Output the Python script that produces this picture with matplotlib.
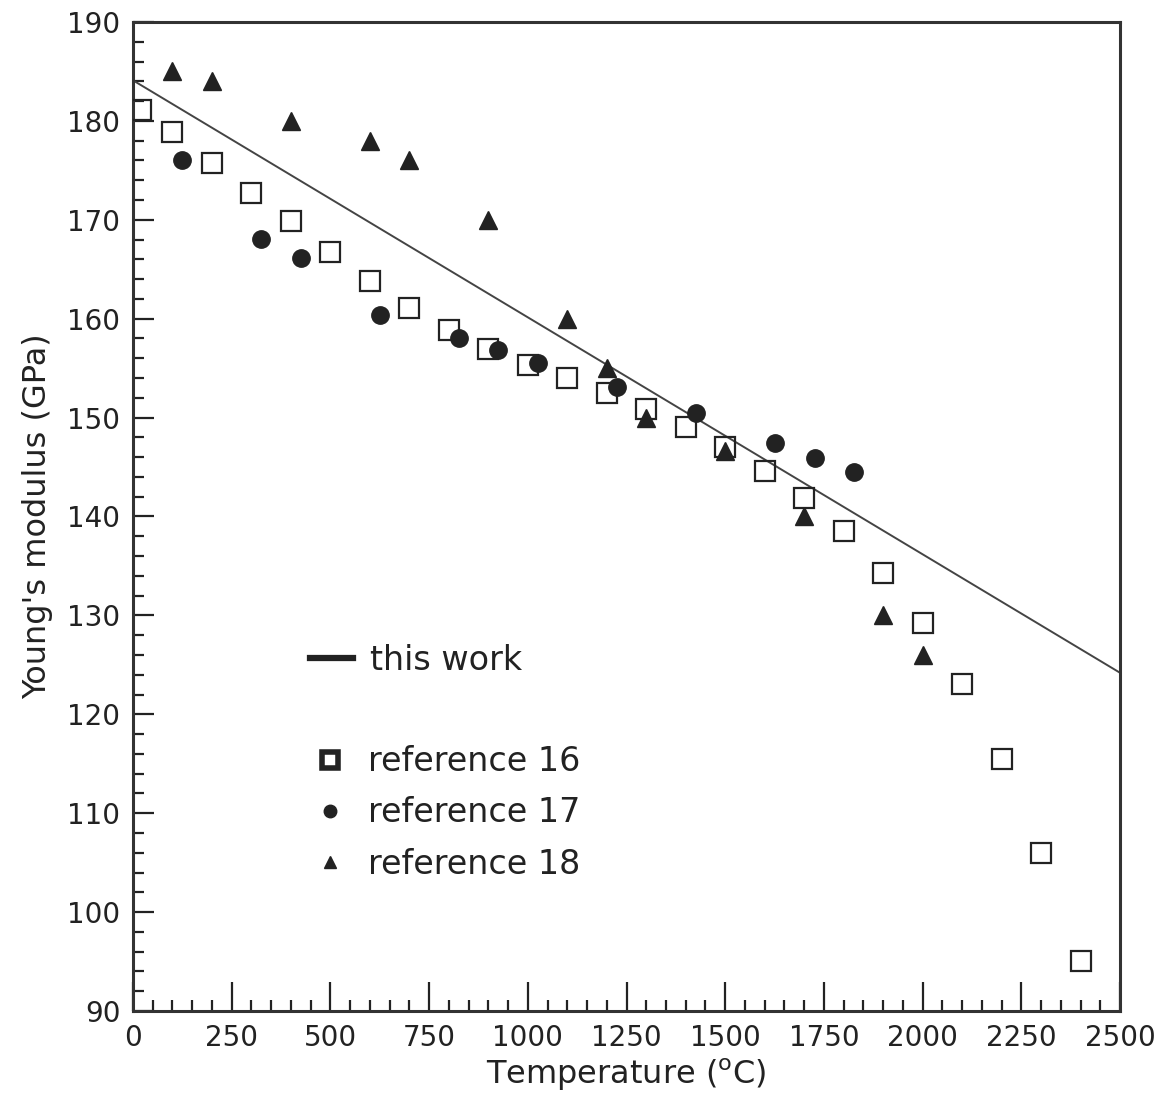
import numpy as np
import matplotlib.pyplot as plt
from matplotlib.lines import Line2D
from matplotlib.ticker import MultipleLocator
from matplotlib import font_manager

# data
ref16_T = [20, 100, 200, 300, 400, 500, 600, 700, 800, 900, 1000, 1100, 1200,
           1300, 1400, 1500, 1600, 1700, 1800, 1900, 2000, 2100, 2200, 2300, 2400]
ref16_E = [181.1, 178.9, 175.7, 172.7, 169.9, 166.7, 163.8, 161.1, 158.9, 156.9,
           155.3, 154.0, 152.5, 150.9, 149.0, 147.0, 144.6, 141.9, 138.5, 134.3,
           129.2, 123.1, 115.5, 106.0, 95.1]

ref17_T = [124, 324, 425, 626, 826, 925, 1026, 1226, 1426, 1626, 1727, 1826]
ref17_E = [176.0, 168.1, 166.1, 160.4, 158.0, 156.8, 155.5, 153.1, 150.5, 147.4,
           145.9, 144.5]

ref18_T = [100, 200, 400, 600, 700, 900, 1100, 1200, 1300, 1500, 1700, 1900, 2000]
ref18_E = [185.0, 184.0, 180.0, 178.0, 176.0, 170.0, 160.0, 155.0, 150.0, 146.6,
           140.0, 130.0, 126.0]

# linear fit ("this work")
fit_T = [0, 2500]
fit_E = [184.1, 124.2]

# pick a narrow font for tick labels if present
names = {f.name for f in font_manager.fontManager.ttflist}
tick_font = 'Liberation Sans Narrow' if 'Liberation Sans Narrow' in names else 'DejaVu Sans'

fig = plt.figure(figsize=(11.59, 11.0), dpi=100)
ax = fig.add_axes([133/1159, 89/1100, 987/1159, 989/1100])

ink = '#222222'
ax.plot(fit_T, fit_E, '-', color='#444444', lw=1.4, zorder=2)
ax.plot(ref16_T, ref16_E, 's', ms=15, mfc='none', mec=ink, mew=1.6, zorder=3)
ax.plot(ref17_T, ref17_E, 'o', ms=12.5, color=ink, zorder=3)
ax.plot(ref18_T, ref18_E, '^', ms=13, color=ink, zorder=3)

ax.set_xlim(0, 2500)
ax.set_ylim(90, 190)
ax.xaxis.set_major_locator(MultipleLocator(250))
ax.xaxis.set_minor_locator(MultipleLocator(50))
ax.yaxis.set_major_locator(MultipleLocator(10))
ax.yaxis.set_minor_locator(MultipleLocator(2))
ax.tick_params(which='both', direction='in', color=ink, width=1.6)
ax.tick_params(which='major', length=15, pad=9)
ax.tick_params(which='minor', length=8)
ax.tick_params(axis='x', which='major', length=21)
for lab in ax.get_xticklabels() + ax.get_yticklabels():
    lab.set_fontfamily(tick_font)
    lab.set_fontsize(20)
    lab.set_color(ink)
for sp in ax.spines.values():
    sp.set_linewidth(2.2)
    sp.set_color('#333333')

ax.set_xlabel('Temperature ($^{\\rm o}$C)', fontsize=23, color=ink, labelpad=4)
ax.set_ylabel("Young's modulus (GPa)", fontsize=23, color=ink, labelpad=10)

# legends
h_line = [Line2D([], [], color=ink, lw=4.5)]
leg1 = ax.legend(h_line, ['this work'], loc='center left', frameon=False,
                 bbox_to_anchor=(280/1159, 440/1100), bbox_transform=fig.transFigure,
                 fontsize=24, handlelength=1.3, handletextpad=0.5, labelcolor=ink)
ax.add_artist(leg1)
h_pts = [Line2D([], [], ls='none', marker='s', ms=11, mfc='white', mec=ink, mew=4),
         Line2D([], [], ls='none', marker='o', ms=9, color=ink),
         Line2D([], [], ls='none', marker='^', ms=9, color=ink)]
ax.legend(h_pts, ['reference 16', 'reference 17', 'reference 18'], loc='center left',
          frameon=False, bbox_to_anchor=(278/1159, 287/1100),
          bbox_transform=fig.transFigure, fontsize=24, handlelength=1.3,
          handletextpad=0.5, labelspacing=0.55, labelcolor=ink)

fig.savefig('out.png', dpi=100)
